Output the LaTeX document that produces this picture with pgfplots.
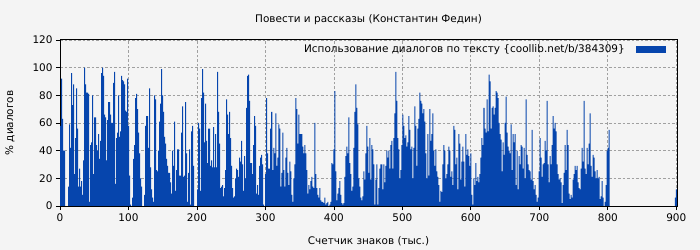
\documentclass[border=0pt]{standalone}
\usepackage{fontspec}
\setmainfont{DejaVu Sans}
\usepackage{pgfplots}
\usepackage{pgfplotstable}
\pgfplotsset{compat=1.18}
\usetikzlibrary{backgrounds}
\definecolor{barblue}{RGB}{6,69,173}
\definecolor{bgc}{RGB}{244,244,244}
\definecolor{gridc}{RGB}{160,160,160}

\pgfplotstableread[row sep=\\]{
y\\
58\\92\\63\\40\\40\\0\\0\\0\\14\\59\\
42\\96\\73\\88\\23\\49\\85\\56\\14\\27\\
14\\18\\8\\33\\100\\88\\82\\82\\81\\3\\
44\\46\\80\\23\\64\\64\\44\\40\\52\\34\\
47\\96\\100\\94\\66\\64\\33\\62\\75\\75\\
66\\60\\60\\89\\97\\16\\49\\53\\80\\50\\
54\\94\\91\\90\\88\\69\\68\\92\\58\\22\\
1\\0\\6\\34\\44\\78\\81\\70\\53\\38\\
20\\14\\0\\0\\8\\58\\65\\65\\42\\
85\\28\\12\\6\\3\\80\\77\\26\\25\\40\\
61\\74\\99\\80\\68\\50\\45\\34\\29\\24\\
24\\17\\9\\40\\29\\61\\11\\26\\41\\41\\
22\\22\\53\\72\\21\\22\\75\\38\\3\\24\\
41\\1\\54\\58\\29\\0\\0\\0\\12\\60\\
56\\11\\78\\99\\82\\46\\74\\47\\31\\56\\
56\\29\\33\\28\\57\\28\\52\\28\\97\\68\\
45\\13\\14\\15\\7\\13\\26\\77\\66\\52\\
68\\49\\29\\13\\6\\7\\20\\27\\26\\21\\
35\\32\\
47\\30\\11\\36\\20\\71\\94\\95\\76\\31\\
31\\23\\44\\65\\58\\9\\15\\8\\29\\35\\
37\\30\\1\\0\\23\\78\\38\\27\\27\\56\\
68\\26\\42\\38\\67\\29\\35\\59\\56\\14\\
24\\53\\26\\14\\35\\42\\24\\15\\32\\25\\
8\\3\\20\\30\\78\\70\\45\\66\\52\\52\\
52\\43\\38\\44\\38\\26\\9\\15\\12\\18\\
21\\14\\13\\60\\23\\13\\8\\6\\13\\4\\
3\\3\\2\\6\\1\\2\\3\\0\\1\\3\\
31\\30\\
41\\83\\25\\4\\9\\13\\18\\8\\2\\1\\
2\\21\\36\\43\\38\\64\\31\\23\\11\\14\\
42\\68\\88\\71\\59\\20\\14\\6\\4\\7\\
25\\19\\38\\58\\43\\24\\49\\19\\44\\41\\
30\\1\\19\\30\\1\\13\\27\\30\\30\\12\\
30\\17\\29\\40\\35\\40\\27\\44\\47\\27\\
49\\67\\97\\76\\49\\41\\20\\26\\44\\66\\
58\\49\\51\\43\\46\\65\\55\\41\\43\\20\\
42\\72\\58\\29\\56\\63\\82\\76\\74\\67\\
70\\61\\
38\\20\\52\\22\\70\\47\\52\\67\\40\\29\\
41\\25\\21\\15\\3\\11\\10\\30\\44\\40\\
20\\23\\30\\43\\40\\21\\25\\15\\58\\55\\
30\\35\\12\\52\\45\\19\\32\\43\\32\\14\\
52\\37\\41\\36\\29\\38\\8\\1\\20\\15\\
31\\18\\21\\17\\23\\35\\49\\44\\71\\56\\
53\\77\\54\\95\\90\\56\\71\\72\\66\\71\\
83\\82\\78\\60\\52\\48\\25\\46\\37\\60\\
79\\53\\43\\40\\38\\59\\26\\52\\46\\52\\
15\\40\\
12\\36\\30\\44\\43\\27\\42\\20\\77\\37\\
30\\26\\25\\19\\55\\18\\12\\15\\8\\3\\
6\\25\\49\\35\\21\\30\\31\\47\\40\\76\\
30\\17\\36\\30\\44\\65\\56\\60\\54\\30\\
23\\19\\20\\17\\2\\15\\24\\44\\26\\55\\
44\\9\\5\\8\\6\\19\\23\\29\\26\\29\\
17\\13\\12\\27\\42\\32\\76\\27\\23\\42\\
30\\45\\67\\29\\21\\37\\35\\25\\20\\26\\
20\\21\\5\\7\\18\\6\\0\\3\\15\\40\\
42\\55\\
}\maindata

\begin{document}
\begin{tikzpicture}
\begin{axis}[
  name=ax,
  scale only axis,
  width=617bp, height=166bp,
  xmin=0, xmax=901, ymin=0, ymax=120,
  xtick={0,100,...,900},
  ytick={0,20,...,120},
  grid=major,
  grid style={gridc, line width=0.8pt, dash pattern=on 2.5bp off 2bp},
  axis line style={black, line width=1pt},
  tick align=outside,
  xtick pos=bottom, ytick pos=left,
  major tick length=4bp,
  tick style={black, line width=0.8pt},
  ticklabel style={font=\fontsize{10.5}{12}\selectfont},
  /pgf/number format/assume math mode=true,
  legend style={draw=none, fill=none, at={(0.987,0.995)}, anchor=north east,
    font=\fontsize{10.5}{12}\selectfont, legend cell align=right},
  legend plot pos=right,
  legend image code/.code={\path (0bp,0bp); \fill[barblue] (9bp,-3.5bp) rectangle (39bp,3.5bp);},
]
\addplot[ybar, bar width=1.462, bar shift=0pt, fill=barblue, draw=none]
  table[x expr=\coordindex*1.462+0.73, y=y]{\maindata};
\addlegendentry{Использование диалогов по тексту \{coollib.net/b/384309\}}
\addplot[ybar, bar width=1.462, bar shift=0pt, fill=barblue, draw=none, forget plot]
  coordinates {(898.5,6) (900,12)};
\end{axis}
\node[anchor=base, font=\fontsize{10.5}{12}\selectfont] at ([yshift=17bp]ax.north) {Повести и рассказы (Константин Федин)};
\node[anchor=base, font=\fontsize{10.5}{12}\selectfont] at ([yshift=-38bp]ax.south) {Счетчик знаков (тыс.)};
\node[anchor=base, rotate=90, font=\fontsize{10.5}{12}\selectfont] at ([xshift=-47bp]ax.west) {\% диалогов};
\begin{scope}[on background layer]
\fill[bgc] ([xshift=-60bp,yshift=-44bp]ax.south west) rectangle ([xshift=23bp,yshift=40bp]ax.north east);
\end{scope}
\useasboundingbox ([xshift=-60bp,yshift=-44bp]ax.south west) rectangle ([xshift=23bp,yshift=40bp]ax.north east);
\end{tikzpicture}
\end{document}
